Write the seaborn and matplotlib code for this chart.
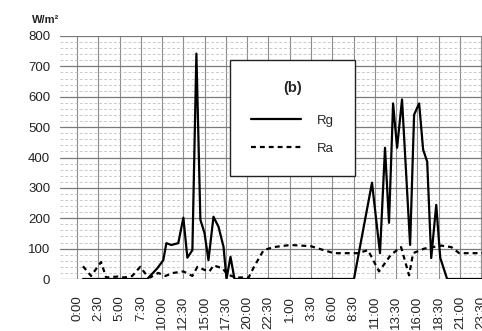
import numpy as np
import pandas as pd
import matplotlib
matplotlib.use("Agg")
import matplotlib.pyplot as plt
from matplotlib.ticker import MultipleLocator
from matplotlib.lines import Line2D
import seaborn as sns

# ---- data (hours since start of day 1, W/m²) ----
rg_hours = [0.7, 8.25, 9.43, 10.14, 10.5, 11.08, 11.9, 12.5, 12.97, 13.56, 14.03, 14.5,
            14.98, 15.45, 16.04, 16.63, 17.22, 17.57, 18.04, 18.51, 32.55, 34.67, 35.61,
            36.2, 36.67, 37.15, 37.62, 38.2, 39.15, 39.62, 40.21, 40.68, 41.16, 41.63,
            42.22, 42.69, 43.5, 47.6]
rg_values = [0, 0, 35, 62, 118, 112, 118, 202, 70, 95, 742, 195,
             152, 62, 205, 172, 106, 0, 73, 0, 0, 317, 85,
             432, 185, 578, 432, 591, 112, 541, 578, 426, 386, 69,
             244, 70, 0, 0]

ra_hours = [0.7, 1.65, 2.83, 3.42, 4.72, 5.54, 6.49, 7.43, 8.25, 8.6, 9.55, 10.38,
            11.32, 12.5, 13.56, 14.15, 14.98, 15.57, 16.04, 17.1, 17.69, 18.63, 20.17,
            20.8, 21.93, 23.1, 25.1, 27.48, 29.0, 30.2, 33.0, 34.2, 35.5, 36.9, 38.09,
            39.03, 39.5, 40.8, 42.8, 43.99, 44.93, 47.76]
ra_values = [42, 10, 56, 5, 8, 5, 10, 40, 10, 5, 20, 10,
             20, 25, 10, 40, 30, 25, 45, 35, 15, 5, 5,
             40, 95, 105, 112, 108, 95, 85, 85, 95, 25, 80, 105,
             12, 85, 100, 110, 105, 85, 85]

tick_hours = [i * 2.5 for i in range(20)]
tick_labels = ["0:00", "2:30", "5:00", "7:30", "10:00", "12:30", "15:00", "17:30",
               "20:00", "22:30", "1:00", "3:30", "6:00", "8:30", "11:00", "13:30",
               "16:00", "18:30", "21:00", "23:30"]

sns.set_style("white")
plt.rcParams["font.family"] = ["Liberation Sans", "DejaVu Sans"]

fig = plt.figure(figsize=(4.82, 3.31), dpi=100)
fig.patch.set_facecolor("white")
ax = fig.add_axes([60 / 482, 52 / 331, 422 / 482, 243 / 331])

df_rg = pd.DataFrame({"t": rg_hours, "v": rg_values})
df_ra = pd.DataFrame({"t": ra_hours, "v": ra_values})

sns.lineplot(data=df_rg, x="t", y="v", ax=ax, color="black", lw=1.6,
             estimator=None, sort=False, zorder=5)
sns.lineplot(data=df_ra, x="t", y="v", ax=ax, color="black", lw=1.6,
             estimator=None, sort=False, zorder=5, dashes=False)
ax.lines[-1].set_dashes((2.2, 1.8))

ax.set_xlim(-2.0, 47.6)
ax.set_ylim(0, 800)
ax.set_xlabel("")
ax.set_ylabel("")

ax.set_xticks(tick_hours)
ax.set_xticklabels(tick_labels, rotation=90, fontsize=9.5, color="#222")
ax.yaxis.set_major_locator(MultipleLocator(100))
ax.yaxis.set_minor_locator(MultipleLocator(20))
ax.tick_params(axis="y", which="both", length=0, pad=7, labelsize=9.5, labelcolor="#222")
ax.tick_params(axis="x", which="major", length=10, width=0.9, color="#888",
               direction="out", pad=2)

for s in ax.spines.values():
    s.set_visible(False)

ax.grid(True, which="major", axis="y", color="#7a7a7a", lw=0.9)
ax.grid(True, which="major", axis="x", color="#8c8c8c", lw=0.8)
ax.grid(True, which="minor", axis="y", color="#b4b4b4", lw=0.5, linestyle=(0, (4, 3)))
ax.set_axisbelow(True)

handles = [Line2D([], [], color="black", lw=1.6),
           Line2D([], [], color="black", lw=1.6, dashes=(2.2, 1.8))]
leg = ax.legend(handles, ["Rg", "Ra"], loc="upper left",
                bbox_to_anchor=(0.403, 0.901), fontsize=9.5,
                title="(b)", title_fontproperties={"weight": "bold", "size": 10.5},
                frameon=True, fancybox=False, edgecolor="#222", framealpha=1,
                handlelength=3.8, handletextpad=1.2, borderpad=1.6,
                labelspacing=1.2, borderaxespad=0)
leg.get_frame().set_linewidth(1.0)
leg._legend_box.sep = 14
leg.set_zorder(10)

fig.text(32 / 482, 1 - 20 / 331, "W/m²", fontsize=8, weight="bold", va="center",
         ha="left", color="#222")

fig.savefig("out.png", dpi=100, facecolor="white")
